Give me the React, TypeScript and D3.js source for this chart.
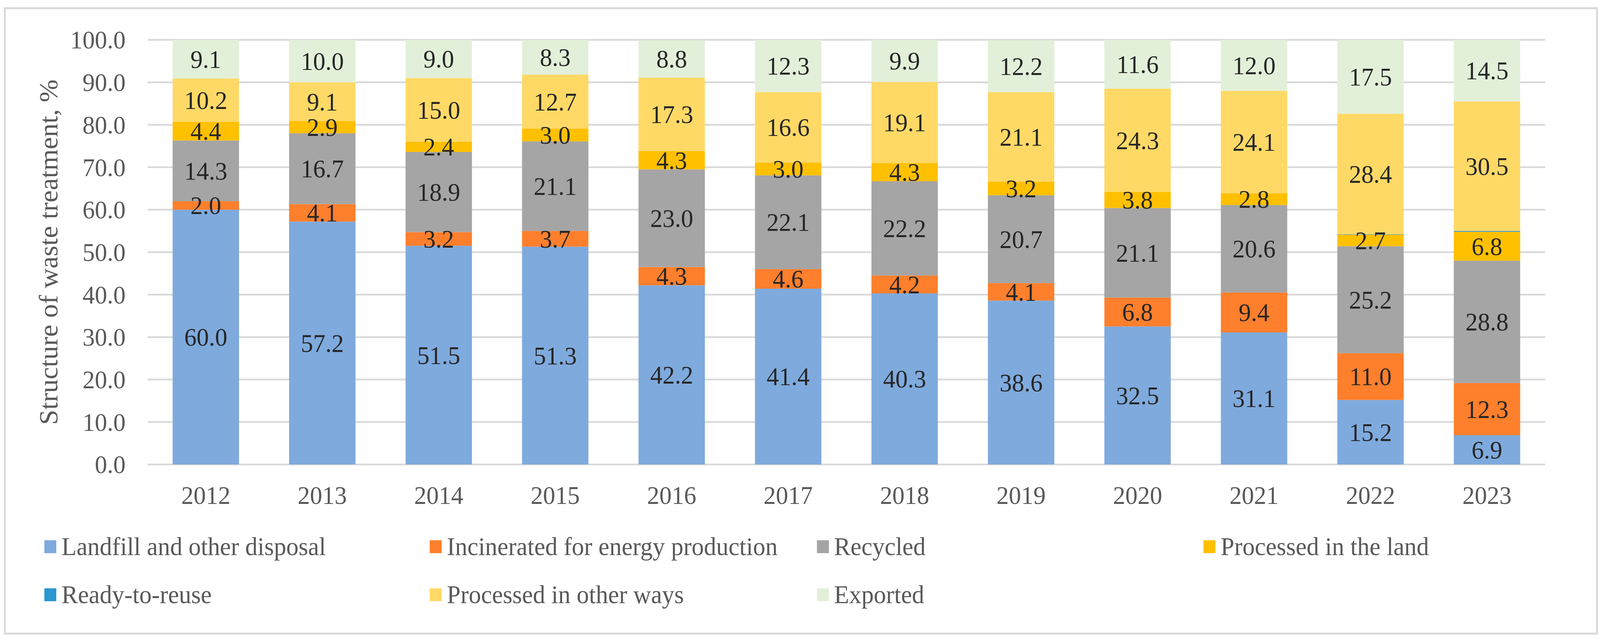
import React, { useEffect, useRef } from 'react';
import * as d3 from 'd3';

// data
const years = ['2012', '2013', '2014', '2015', '2016', '2017', '2018', '2019', '2020', '2021', '2022', '2023'];
const landfill = [60.0, 57.2, 51.5, 51.3, 42.2, 41.4, 40.3, 38.6, 32.5, 31.1, 15.2, 6.9];
const incinerated = [2.0, 4.1, 3.2, 3.7, 4.3, 4.6, 4.2, 4.1, 6.8, 9.4, 11.0, 12.3];
const recycled = [14.3, 16.7, 18.9, 21.1, 23.0, 22.1, 22.2, 20.7, 21.1, 20.6, 25.2, 28.8];
const processedLand = [4.4, 2.9, 2.4, 3.0, 4.3, 3.0, 4.3, 3.2, 3.8, 2.8, 2.7, 6.8];
const readyToReuse = [0, 0, 0, 0, 0, 0, 0, 0, 0, 0, 0.1, 0.2];
const processedOther = [10.2, 9.1, 15.0, 12.7, 17.3, 16.6, 19.1, 21.1, 24.3, 24.1, 28.4, 30.5];
const exported = [9.1, 10.0, 9.0, 8.3, 8.8, 12.3, 9.9, 12.2, 11.6, 12.0, 17.5, 14.5];
const yTicks = [0, 10, 20, 30, 40, 50, 60, 70, 80, 90, 100];

const seriesNames = [
  'Landfill and other disposal',
  'Incinerated for energy production',
  'Recycled',
  'Processed in the land',
  'Ready-to-reuse',
  'Processed in other ways',
  'Exported',
];
const seriesValues = [landfill, incinerated, recycled, processedLand, readyToReuse, processedOther, exported];
const seriesColors = ['#7FAADD', '#FE7F2C', '#A5A5A5', '#FFC000', '#2A96D2', '#FFD966', '#E2F0D9'];
// ready-to-reuse gets no data labels
const labelled = [true, true, true, true, false, true, true];

const W = 4293;
const H = 1646;
const FONT = '"Liberation Serif", "Times New Roman", serif';

const App: React.FC = () => {
  const ref = useRef<SVGSVGElement>(null);

  useEffect(() => {
    const { current: node } = ref;
    if (!node) {
      return;
    }
    const svg = d3.select(node);
    svg.selectAll('*').remove();

    const rows = years.map((year, i) => {
      const row: any = { year };
      seriesNames.forEach((name, s) => {
        row[name] = seriesValues[s][i];
      });
      return row;
    });

    const x = d3
      .scaleBand()
      .domain(years)
      .range([396, 4146])
      .paddingInner(0.43)
      .paddingOuter(0.215);
    const y = d3.scaleLinear().domain([0, 100]).range([1189, 102]);

    // outer frame
    svg
      .append('rect')
      .attr('x', 13)
      .attr('y', 21)
      .attr('width', 4272)
      .attr('height', 1601)
      .attr('fill', '#fff')
      .attr('stroke', '#d9d9d9')
      .attr('stroke-width', 5);

    // gridlines
    svg
      .append('g')
      .selectAll('line')
      .data(yTicks)
      .join('line')
      .attr('x1', 396)
      .attr('x2', 4146)
      .attr('y1', (d) => y(d))
      .attr('y2', (d) => y(d))
      .attr('stroke', '#d9d9d9')
      .attr('stroke-width', 4.5);

    // y tick labels
    svg
      .append('g')
      .selectAll('text')
      .data(yTicks)
      .join('text')
      .attr('x', 337)
      .attr('y', (d) => y(d))
      .attr('dy', '0.34em')
      .attr('text-anchor', 'end')
      .attr('font-family', FONT)
      .attr('font-size', 66)
      .attr('fill', '#595959')
      .text((d) => d.toFixed(1));

    // y axis title
    svg
      .append('text')
      .attr('transform', `translate(130,${(y(0) + y(100)) / 2}) rotate(-90)`)
      .attr('text-anchor', 'middle')
      .attr('dy', '0.34em')
      .attr('font-family', FONT)
      .attr('font-size', 70)
      .attr('fill', '#595959')
      .text('Structure of waste treatment, %');

    // bars
    const stacked = d3.stack<any>().keys(seriesNames)(rows);

    svg
      .append('g')
      .selectAll('g')
      .data(stacked)
      .join('g')
      .attr('fill', (_, i) => seriesColors[i])
      .selectAll('rect')
      .data((d) => d)
      .join('rect')
      .attr('x', (d: any) => x(d.data.year)!)
      .attr('width', x.bandwidth())
      .attr('y', (d) => y(Math.min(d[1], 100)))
      .attr('height', (d) => Math.max(0, y(d[0]) - y(Math.min(d[1], 100))));

    // data labels
    const labels = svg.append('g');
    stacked.forEach((layer, s) => {
      if (!labelled[s]) {
        return;
      }
      labels
        .append('g')
        .selectAll('text')
        .data(layer)
        .join('text')
        .attr('x', (d: any) => x(d.data.year)! + x.bandwidth() / 2)
        .attr('y', (d) => y((d[0] + Math.min(d[1], 100)) / 2))
        .attr('dy', '0.34em')
        .attr('text-anchor', 'middle')
        .attr('font-family', FONT)
        .attr('font-size', 66)
        .attr('fill', '#262626')
        .text((d) => (d[1] - d[0]).toFixed(1));
    });

    // x axis labels
    svg
      .append('g')
      .selectAll('text')
      .data(years)
      .join('text')
      .attr('x', (d) => x(d)! + x.bandwidth() / 2)
      .attr('y', 1290)
      .attr('text-anchor', 'middle')
      .attr('font-family', FONT)
      .attr('font-size', 66)
      .attr('fill', '#595959')
      .text((d) => d);

    // legend: 4 columns, 2 rows like the Excel one
    const colX = [119, 1153, 2192, 3229];
    const rowY = [1399, 1522];
    const legend = svg
      .append('g')
      .selectAll('g')
      .data(seriesNames)
      .join('g')
      .attr('transform', (_, i) => `translate(${colX[i % 4]},${rowY[Math.floor(i / 4)]})`);
    legend
      .append('rect')
      .attr('y', -16)
      .attr('width', 32)
      .attr('height', 33)
      .attr('fill', (_, i) => seriesColors[i]);
    legend
      .append('text')
      .attr('x', 46)
      .attr('dy', '0.34em')
      .attr('font-family', FONT)
      .attr('font-size', 66)
      .attr('fill', '#595959')
      .text((d) => d);
  }, []);

  return (
    <svg
      ref={ref}
      viewBox={`0 0 ${W} ${H}`}
      preserveAspectRatio="none"
      style={{ position: 'absolute', left: 0, top: 0, width: '100vw', height: '100vh', display: 'block', background: '#fff' }}
    />
  );
};

export default App;
